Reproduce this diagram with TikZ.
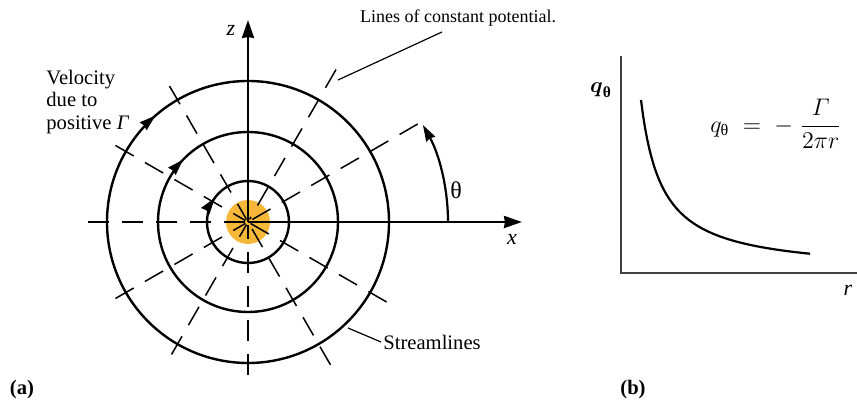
\documentclass[tikz,border=0pt]{standalone}
\usepackage{amsmath}
\usepackage{fontspec}
\setmainfont{Liberation Serif}[Extension=.ttf,UprightFont=LiberationSerif-Regular,ItalicFont=LiberationSerif-Italic,BoldFont=LiberationSerif-Bold,BoldItalicFont=LiberationSerif-BoldItalic]
\usetikzlibrary{arrows.meta,decorations.markings}
\definecolor{core}{RGB}{247,184,58}
\begin{document}
\begin{tikzpicture}[x=0.5pt,y=0.5pt,
  lbl/.style={inner sep=1pt,font=\fontsize{10.3}{11.2}\selectfont},
  stream/.style={line width=1.2pt},
  dsh/.style={line width=0.75pt,dash pattern=on 10.5pt off 6.5pt},
  axis/.style={line width=1.2pt},
  tip/.style={-{Stealth[inset=0.5pt,length=9pt,width=6pt]}},
  ttip/.style={-{Stealth[inset=0.5pt,length=8pt,width=5pt]}},
  grax/.style={line width=0.9pt,black!75},
  sarrow/.style={postaction={decorate},decoration={markings,
     mark=at position #1 with {\arrowreversed{Stealth[inset=0.5pt,length=8pt,width=5pt]}}}}]
\useasboundingbox (0,0) rectangle (857,405);
\coordinate (O) at (248,183);
% core
\fill[core] (O) circle[radius=22];
% potential lines (drawn from the outer end inwards)
\foreach \a/\r in {30/196,60/176,120/157,150/153,180/160,210/153,240/153,270/153,300/165,330/160}
  \draw[dsh] ([shift={(\a:\r)}]O) -- ([shift={(\a:3)}]O);
% streamlines
\draw[stream,sarrow=0.364] (O) circle[radius=141];
\draw[stream,sarrow=0.378] (O) circle[radius=90];
\draw[stream,sarrow=0.40] (O) circle[radius=41];
% axes
\coordinate (ztip) at (248,385);
\coordinate (xtip) at (522,183);
\draw[axis,tip] (O) -- (ztip);
\draw[axis,tip] (O) -- (xtip);
\node[lbl,font=\fontsize{11}{12}\selectfont\itshape] (zl) at (231,375) {z};
\node[lbl,font=\fontsize{11}{12}\selectfont\itshape] (xl) at (512,166) {x};
% theta
\draw[line width=1.1pt,ttip] ([shift={(0:200)}]O) arc[start angle=0,end angle=29,radius=200];
\node[lbl,font=\fontsize{12}{13}\selectfont] (th) at (456,215) {θ};
% labels
\node[lbl,anchor=west,align=left] (vel) at (44,303) {Velocity\\due to\\positive \textit{Γ}};
\node[lbl,font=\fontsize{9}{10}\selectfont] (lcp) at (458,387) {Lines of constant potential.};
\coordinate (lcpA) at (442,373);
\coordinate (lcpB) at (338,325);
\draw[line width=0.6pt] (lcpA) -- (lcpB);
\node[lbl,anchor=west] (stl) at (381,63) {Streamlines};
\coordinate (stlB) at (348,77);
\draw[line width=0.6pt] (stl.west) -- (stlB);
\node[lbl,font=\fontsize{10.3}{11}\selectfont\bfseries] (pa) at (22,15) {(a)};
\node[lbl,font=\fontsize{10.3}{11}\selectfont\bfseries] (pb) at (633,15) {(b)};
% graph (b)
\coordinate (G) at (621,132);
\coordinate (gy) at (621,349);
\coordinate (gx) at (857,132);
\draw[grax] (gy) -- (G) -- (gx);
\draw[line width=1.1pt,domain=20:189,samples=80,smooth] plot ({621+\x},{132+3662/(\x+1.17)});
\node[lbl,font=\fontsize{11}{12}\selectfont] (ql) at (601,315) {$\boldsymbol{q}_{\text{\normalfont\bfseries θ}}$};
\node[lbl,font=\fontsize{11}{12}\selectfont\itshape] (rl) at (848,115) {r};
\node[lbl,font=\fontsize{11.5}{12}\selectfont] (fm) at (776,281) {$q_{\text{\normalfont θ}} \;=\; -\;\dfrac{\varGamma}{2\pi r}$};
\end{tikzpicture}
\end{document}
